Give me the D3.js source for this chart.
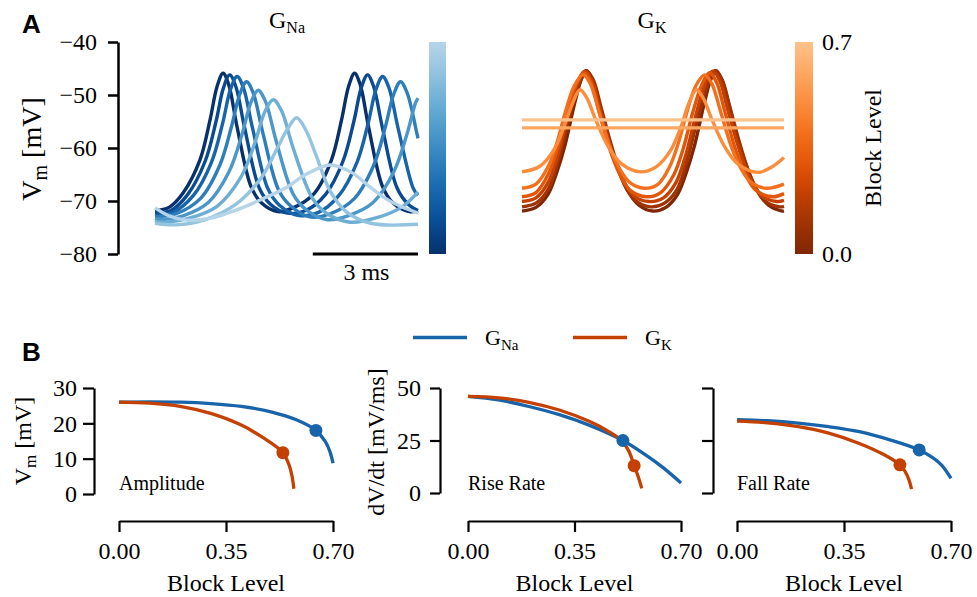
<!DOCTYPE html>
<html><head><meta charset="utf-8">
<script src="https://cdn.jsdelivr.net/npm/d3@7"></script>
<style>body{margin:0;background:#fff}svg{display:block}</style>
</head><body><svg id="c" width="977" height="597"></svg>
<script>
// ---------------- DATA ----------------
const blockLevels = [0, 0.1, 0.2, 0.3, 0.4, 0.5, 0.6, 0.7];
const voltageTicks = [-80, -70, -60, -50, -40];
const scaleBarMs = 3;

// Panel A, G_Na block: [time ms, Vm mV]
const gNaTraces = [
  [[0,-71.8],[0.4,-71.2],[0.8,-68.5],[1.28,-62.3],[1.57,-54.7],[1.77,-48.4],[1.94,-45.9],[2.1,-48],[2.34,-56],[2.74,-67.3],[3.04,-70.4],[3.5,-72],[3.9,-71.4],[4.55,-68.5],[5.03,-62.3],[5.32,-54.7],[5.52,-48.4],[5.69,-45.9],[5.85,-48],[6.09,-56],[6.49,-67.3],[6.79,-70.4],[7.25,-72],[7.5,-71.8]],
  [[0,-72.2],[0.45,-71.8],[0.93,-68.8],[1.43,-62.5],[1.74,-55],[1.95,-48.7],[2.13,-46.2],[2.3,-48.3],[2.55,-56],[2.97,-67.5],[3.29,-70.6],[3.78,-72.3],[4.3,-71.8],[4.86,-68.8],[5.36,-62.5],[5.67,-55],[5.88,-48.7],[6.06,-46.2],[6.23,-48.3],[6.48,-56],[6.9,-67.5],[7.22,-70.6],[7.5,-71.8]],
  [[0,-72.7],[0.5,-72.2],[1.09,-69],[1.61,-62.7],[1.93,-55.3],[2.15,-49],[2.34,-46.5],[2.52,-48.6],[2.78,-56.2],[3.22,-67.7],[3.55,-70.8],[4.07,-72.7],[4.65,-72.2],[5.24,-69],[5.76,-62.7],[6.08,-55.3],[6.3,-49],[6.49,-46.5],[6.67,-48.6],[6.93,-56.2],[7.37,-67.7],[7.5,-68.9]],
  [[0,-73],[0.6,-72.4],[1.3,-69.5],[1.85,-63.2],[2.18,-56],[2.41,-50],[2.61,-47.5],[2.8,-49.6],[3.07,-57],[3.53,-68],[3.88,-71],[4.41,-73],[5.0,-72.4],[5.69,-69.5],[6.24,-63.2],[6.57,-56],[6.8,-50],[7.0,-47.5],[7.19,-49.6],[7.46,-57],[7.5,-58.2]],
  [[0,-73.3],[0.2,-73.5],[0.8,-72.8],[1.52,-70.3],[2.11,-64.5],[2.48,-57.5],[2.73,-51.5],[2.94,-49.1],[3.15,-51.2],[3.44,-58.3],[3.94,-68.7],[4.32,-71.7],[4.89,-73.5],[5.5,-72.8],[6.22,-70.3],[6.81,-64.5],[7.18,-57.5],[7.43,-51.5],[7.5,-50.6]],
  [[0,-73.8],[0.27,-74],[1.0,-73.2],[1.77,-71],[2.45,-65.5],[2.85,-59],[3.13,-53.2],[3.37,-50.9],[3.61,-53],[3.93,-59.8],[4.49,-69.5],[4.91,-72.4],[5.57,-74],[6.3,-73.2],[7.07,-71],[7.5,-68.3]],
  [[0,-74.2],[0.6,-74.5],[1.4,-73.6],[2.33,-70.5],[3.04,-65.5],[3.49,-60],[3.78,-56.4],[4.04,-54.3],[4.3,-56.6],[4.6,-61.5],[5.0,-68.2],[5.45,-72],[6.15,-74.2],[7.5,-74.4]],
  [[0,-71.3],[0.4,-72.8],[0.9,-73.6],[1.6,-73.2],[2.4,-71.5],[3.1,-69.5],[3.71,-67.6],[4.3,-65],[5.0,-63.2],[5.6,-64.6],[6.1,-67.2],[6.57,-69.5],[7.0,-71],[7.5,-72.3]]
];

// Panel A, G_K block: [time ms, Vm mV]
const gKTraces = [
  [[0,-71.9],[0.4,-71.2],[0.74,-68.8],[1.0,-64.5],[1.23,-59.5],[1.51,-51.5],[1.7,-47],[1.85,-45.4],[2.0,-47],[2.2,-51.5],[2.5,-59],[2.75,-64],[3.0,-67.8],[3.35,-70.8],[3.74,-71.9],[4.12,-71.2],[4.45,-68.8],[4.71,-64.5],[4.94,-59.5],[5.22,-51.5],[5.41,-47],[5.56,-45.4],[5.71,-47],[5.91,-51.5],[6.21,-59],[6.46,-64],[6.71,-67.8],[7.06,-70.8],[7.45,-71.9],[7.5,-71.9]],
  [[0,-71.1],[0.4,-70.4],[0.75,-67.8],[1.03,-62.5],[1.28,-56],[1.58,-49],[1.83,-45.4],[2.03,-47],[2.25,-52],[2.55,-59.3],[2.88,-65.8],[3.23,-69.8],[3.68,-71.1],[4.08,-70.4],[4.44,-67.8],[4.72,-62.5],[4.97,-56],[5.27,-49],[5.52,-45.4],[5.72,-47],[5.94,-52],[6.24,-59.3],[6.57,-65.8],[6.92,-69.8],[7.37,-71.1],[7.5,-71]],
  [[0,-70.1],[0.4,-69.4],[0.75,-66.5],[1.02,-61.5],[1.27,-55],[1.55,-48.5],[1.8,-45.5],[2.0,-47.3],[2.22,-52.5],[2.52,-59.5],[2.85,-65.5],[3.2,-69],[3.63,-70.1],[4.05,-69.4],[4.41,-66.5],[4.68,-61.5],[4.93,-55],[5.21,-48.5],[5.46,-45.5],[5.66,-47.3],[5.88,-52.5],[6.18,-59.5],[6.51,-65.5],[6.86,-69],[7.29,-70.1],[7.5,-69.9]],
  [[0,-69.2],[0.4,-68.4],[0.75,-65],[1.02,-60],[1.28,-53.5],[1.55,-48],[1.77,-45.8],[1.97,-47.6],[2.2,-53],[2.5,-60],[2.8,-65],[3.1,-68],[3.57,-69.2],[3.97,-68.4],[4.35,-65],[4.62,-60],[4.88,-53.5],[5.15,-48],[5.37,-45.8],[5.57,-47.6],[5.8,-53],[6.1,-60],[6.4,-65],[6.7,-68],[7.17,-69.2],[7.5,-68.6]],
  [[0,-67.6],[0.4,-66.8],[0.75,-63.5],[1.0,-59],[1.25,-53],[1.5,-48.2],[1.75,-46.2],[1.95,-47.8],[2.2,-53],[2.5,-59.5],[2.8,-64],[3.1,-66.6],[3.5,-67.6],[3.9,-66.8],[4.23,-63.5],[4.48,-59],[4.73,-53],[4.98,-48.2],[5.23,-46.2],[5.43,-47.8],[5.68,-53],[5.98,-59.5],[6.28,-64],[6.58,-66.6],[7.0,-67.6],[7.5,-66.8]],
  [[0,-64.5],[0.5,-63.5],[0.9,-60.5],[1.2,-56],[1.45,-51.5],[1.66,-49],[1.85,-50.5],[2.1,-54.5],[2.45,-59.5],[2.85,-63],[3.4,-64.5],[3.85,-63.5],[4.25,-60.5],[4.55,-56],[4.78,-51.5],[4.99,-49],[5.18,-50.5],[5.43,-54.5],[5.78,-59.5],[6.18,-63],[6.75,-64.6],[7.15,-63.6],[7.5,-61.8]],
  [[0,-56.2],[7.5,-56.2]],
  [[0,-54.7],[7.5,-54.7]]
];

// Panel B: [block level, value]
const amplitudeNa = [[0,26.0],[0.1,26.1],[0.2,26.0],[0.3,25.6],[0.4,24.8],[0.5,23.2],[0.58,21.0],[0.644,18.0],[0.675,14.8],[0.69,12.0],[0.70,8.7]];
const amplitudeK  = [[0,26.0],[0.1,25.7],[0.2,24.8],[0.3,22.8],[0.4,19.5],[0.47,16.0],[0.536,11.7],[0.555,8.5],[0.565,5.5],[0.572,1.5]];
const riseNa = [[0,46],[0.1,44.3],[0.2,41.2],[0.3,37.3],[0.4,32.2],[0.509,25],[0.58,18.5],[0.64,12.2],[0.70,4.8]];
const riseK  = [[0,46],[0.1,45.3],[0.2,43.2],[0.3,39.5],[0.4,34],[0.46,29.5],[0.505,25],[0.53,19.5],[0.546,13],[0.56,7.5],[0.571,2.2]];
const fallNa = [[0,34.9],[0.1,34.4],[0.2,33.3],[0.3,31.6],[0.4,29.2],[0.5,25.3],[0.596,20.5],[0.64,16.8],[0.67,13.2],[0.7,7]];
const fallK  = [[0,34.2],[0.1,33.4],[0.2,31.6],[0.3,28.5],[0.4,23.6],[0.48,18.3],[0.533,13.4],[0.55,10.2],[0.562,6.5],[0.571,1.8]];
const markersNa = [[0.644,18.0],[0.509,25],[0.596,20.5]];
const markersK  = [[0.536,11.7],[0.546,13],[0.533,13.4]];
const blockTicks = [0, 0.35, 0.70];
const ampTicks = [0, 10, 20, 30];
const rateTicks = [0, 25, 50];
const subplotNames = ["Amplitude", "Rise Rate", "Fall Rate"];

// ---------------- DRAWING ----------------
const W = 977, H = 597;
const serif = '"Liberation Serif","Times New Roman",serif';
const sans = '"Liberation Sans",Arial,sans-serif';
const svg = d3.select("#c");
svg.append("rect").attr("width", W).attr("height", H).attr("fill", "#fff");

const blueC = b => d3.interpolateBlues(1 - b);
const orangeC = b => d3.interpolateOranges(1 - b);
const naColor = d3.interpolateBlues(0.8);
const kColor = d3.interpolateOranges(0.8);
const smooth = d3.curveCatmullRom.alpha(0.5);

function styleAxis(g, sw, fs) {
  g.attr("font-family", serif).attr("font-size", fs);
  g.select(".domain").attr("stroke", "#000").attr("stroke-width", sw);
  g.selectAll(".tick line").attr("stroke", "#000").attr("stroke-width", sw);
  g.selectAll(".tick text").attr("fill", "#000");
}
function subText(parent, x, y, main, sub, after, fs, sfs, shift, anchor, rot) {
  const t = parent.append("text").attr("font-family", serif).attr("font-size", fs)
    .attr("text-anchor", anchor || "start").attr("fill", "#000")
    .attr("transform", `translate(${x},${y})` + (rot ? ` rotate(${rot})` : ""));
  t.append("tspan").text(main);
  t.append("tspan").attr("font-size", sfs).attr("dy", shift).text(sub);
  if (after) t.append("tspan").attr("dy", -shift).text(after);
  return t;
}

// Panel label A
svg.append("text").attr("x", 22).attr("y", 33).attr("font-family", sans).attr("font-weight", "bold")
  .attr("font-size", 26).text("A");

const yA = d3.scaleLinear().domain([-80, -40]).range([254, 42]);
const xAL = d3.scaleLinear().domain([0, 7.5]).range([155, 418]);
const xAR = d3.scaleLinear().domain([0, 7.5]).range([522, 784]);

const gyA = svg.append("g").attr("transform", "translate(118,0)")
  .call(d3.axisLeft(yA).tickValues(voltageTicks).tickSize(10).tickPadding(11).tickSizeOuter(0));
styleAxis(gyA, 2.5, 24);
subText(svg, 41, 149, "V", "m", " [mV]", 28, 20, 6, "middle", -90);

const lineL = d3.line().x(d => xAL(d[0])).y(d => yA(d[1])).curve(smooth);
const lineR = d3.line().x(d => xAR(d[0])).y(d => yA(d[1])).curve(smooth);

svg.append("g").selectAll("path").data(gNaTraces).join("path")
  .attr("d", lineL).attr("fill", "none").attr("stroke-width", 3.4)
  .attr("stroke", (d, i) => blueC(blockLevels[i]));
svg.append("g").selectAll("path").data(gKTraces).join("path")
  .attr("d", lineR).attr("fill", "none").attr("stroke-width", 3.4)
  .attr("stroke", (d, i) => orangeC(blockLevels[i]));

// scale bar
svg.append("line").attr("x1", xAL(7.5 - scaleBarMs)).attr("x2", xAL(7.5)).attr("y1", yA(-80)).attr("y2", yA(-80))
  .attr("stroke", "#000").attr("stroke-width", 3);
svg.append("text").attr("x", (xAL(7.5 - scaleBarMs) + xAL(7.5)) / 2 + 1).attr("y", 280)
  .attr("text-anchor", "middle").attr("font-family", serif).attr("font-size", 24).text(scaleBarMs + " ms");

// titles
subText(svg, 287, 28, "G", "Na", null, 24, 16, 5, "middle");
subText(svg, 652, 28, "G", "K", null, 24, 16, 5, "middle");

// colorbars
const cbY = d3.scaleLinear().domain([0, 0.7]).range([254, 42]);
const defs = svg.append("defs");
function gradient(id, fn) {
  const g = defs.append("linearGradient").attr("id", id).attr("x1", 0).attr("y1", 1).attr("x2", 0).attr("y2", 0);
  d3.range(0, 1.0001, 0.05).forEach(f => g.append("stop").attr("offset", f).attr("stop-color", fn(f * 0.7)));
}
gradient("gBlue", blueC);
gradient("gOrange", orangeC);
svg.append("rect").attr("x", 429).attr("y", cbY(0.7)).attr("width", 17).attr("height", cbY(0) - cbY(0.7)).attr("fill", "url(#gBlue)");
svg.append("rect").attr("x", 795).attr("y", cbY(0.7)).attr("width", 18).attr("height", cbY(0) - cbY(0.7)).attr("fill", "url(#gOrange)");
const gcb = svg.append("g").attr("transform", "translate(813,0)")
  .call(d3.axisRight(cbY).tickValues([0, 0.7]).tickFormat(d3.format(".1f")).tickSize(0).tickPadding(9));
styleAxis(gcb, 0, 24);
gcb.select(".domain").remove();
svg.append("text").attr("transform", "translate(881,148) rotate(-90)").attr("text-anchor", "middle")
  .attr("font-family", serif).attr("font-size", 24).text("Block Level");

// ---------------- PANEL B ----------------
svg.append("text").attr("x", 22).attr("y", 361).attr("font-family", sans).attr("font-weight", "bold")
  .attr("font-size", 26).text("B");

// legend
const legend = [{x: 413, c: naColor, sub: "Na"}, {x: 573, c: kColor, sub: "K"}];
legend.forEach(l => {
  svg.append("line").attr("x1", l.x).attr("x2", l.x + 54).attr("y1", 337.5).attr("y2", 337.5)
    .attr("stroke", l.c).attr("stroke-width", 3.5);
  subText(svg, l.x + 72, 345, "G", l.sub, null, 22, 15, 5, "start");
});

const subplots = [
  {x0: 119, x1: 333, yAx: 94, yBot: 494, yTop: 388, dom: [0, 30], ticks: ampTicks, labels: true, tsz: 11, tpad: 6, na: amplitudeNa, k: amplitudeK},
  {x0: 468, x1: 681, yAx: 440, yBot: 493, yTop: 388, dom: [0, 50], ticks: rateTicks, labels: true, tsz: 10, tpad: 9, na: riseNa, k: riseK},
  {x0: 737, x1: 951, yAx: 713, yBot: 493, yTop: 388, dom: [0, 50], ticks: rateTicks, labels: false, tsz: 11, tpad: 6, na: fallNa, k: fallK}
];
subplots.forEach((s, i) => {
  const x = d3.scaleLinear().domain([0, 0.7]).range([s.x0, s.x1]);
  const y = d3.scaleLinear().domain(s.dom).range([s.yBot, s.yTop]);
  const gx = svg.append("g").attr("transform", "translate(0,521)")
    .call(d3.axisBottom(x).tickValues(blockTicks).tickFormat(d3.format(".2f")).tickSize(11).tickPadding(10).tickSizeOuter(0));
  styleAxis(gx, 2.2, 24);
  const ax = d3.axisLeft(y).tickValues(s.ticks).tickSize(s.tsz).tickPadding(s.tpad).tickSizeOuter(0);
  if (!s.labels) ax.tickFormat("");
  const gy = svg.append("g").attr("transform", `translate(${s.yAx},0)`).call(ax);
  styleAxis(gy, 2.2, 24);
  svg.append("text").attr("x", (s.x0 + s.x1) / 2).attr("y", 591).attr("text-anchor", "middle")
    .attr("font-family", serif).attr("font-size", 24).text("Block Level");
  svg.append("text").attr("x", s.x0).attr("y", 490).attr("font-family", serif).attr("font-size", 20).text(subplotNames[i]);
  const ln = d3.line().x(d => x(d[0])).y(d => y(d[1])).curve(smooth);
  svg.append("path").attr("d", ln(s.na)).attr("fill", "none").attr("stroke", naColor).attr("stroke-width", 3.3);
  svg.append("path").attr("d", ln(s.k)).attr("fill", "none").attr("stroke", kColor).attr("stroke-width", 3.3);
  svg.append("circle").attr("cx", x(markersNa[i][0])).attr("cy", y(markersNa[i][1])).attr("r", 6.5).attr("fill", naColor);
  svg.append("circle").attr("cx", x(markersK[i][0])).attr("cy", y(markersK[i][1])).attr("r", 6.5).attr("fill", kColor);
});
subText(svg, 31, 441, "V", "m", " [mV]", 24, 17, 5, "middle", -90);
svg.append("text").attr("transform", "translate(384,442) rotate(-90)").attr("text-anchor", "middle")
  .attr("font-family", serif).attr("font-size", 24).text("dV/dt [mV/ms]");
</script></body></html>
